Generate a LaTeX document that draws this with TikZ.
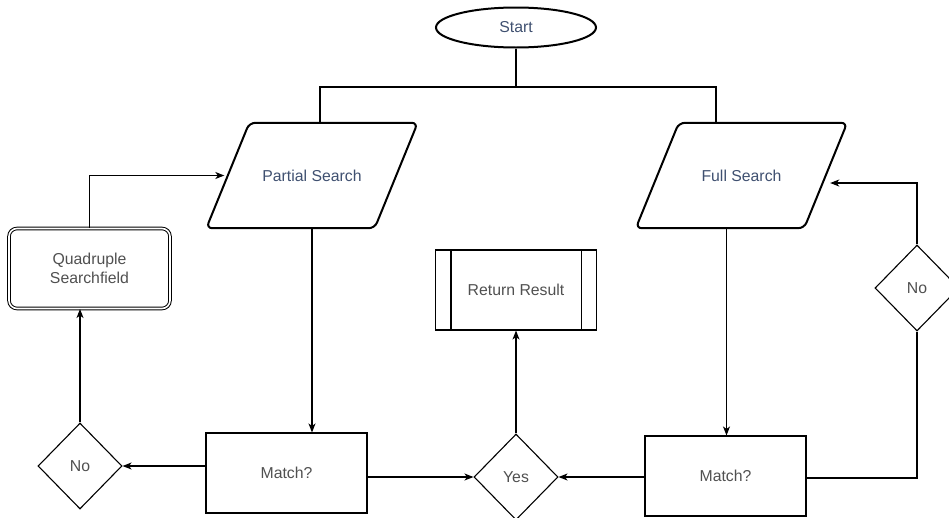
\documentclass[tikz,border=0pt]{standalone}
\usepackage{fontspec}
\setmainfont{Liberation Sans}
\usetikzlibrary{shapes.geometric,arrows.meta}
\definecolor{titleblue}{HTML}{3F5070}
\definecolor{labelgray}{HTML}{505050}
\tikzset{
  base/.style={font=\fontsize{15.8}{18.5}\selectfont, text=labelgray, inner sep=0pt, align=center},
  terminal/.style={base, ellipse, draw, line width=2pt, text=titleblue,
    minimum width=160, minimum height=40},
  datalabel/.style={base, rectangle, text=titleblue, minimum width=211, minimum height=105},
  dataedge/.style={line width=2pt, rounded corners=6pt},
  procbox/.style={base, rectangle, draw, line width=1.1pt, minimum width=161, minimum height=80},
  decision/.style={base, diamond, draw, line width=1.1pt, minimum width=84, minimum height=86},
  subproc/.style={procbox},
  altbox/.style={procbox, rounded corners=8pt, double, double distance=1.6pt, line width=1pt},
  trunk/.style={line width=2pt},
  flow/.style={line width=1.1pt, -{Stealth[length=9pt,width=7pt,inset=2.5pt]}},
  plain/.style={line width=1.1pt}
}
\begin{document}
\begin{tikzpicture}[x=1pt,y=-1pt]
\useasboundingbox (0,0) rectangle (949,517);
\clip (0,0) rectangle (949,517);

% nodes
\node[terminal] (start) at (516,27.5) {Start};
\node[datalabel] (partial) at (312,175.5) {Partial Search};
\node[datalabel] (full) at (741.5,175.5) {Full Search};
\node[altbox] (quad) at (89.5,268.5) {Quadruple\\Searchfield};
\node[subproc] (ret) at (516,290) {Return Result};
\node[procbox] (matchL) at (286.5,473) {Match?};
\node[procbox] (matchR) at (725.5,476) {Match?};
\node[decision] (noL) at (80,466) {No};
\node[decision] (yes) at (516,477) {Yes};
\node[decision] (noR) at (917,288) {No};

% parallelogram outlines of the two search steps (slant 43 over the height)
\draw[dataedge] (partial.south west) -- ([xshift=-43pt]partial.south east)
  -- (partial.north east) -- ([xshift=43pt]partial.north west) -- cycle;
\draw[dataedge] (full.south west) -- ([xshift=-43pt]full.south east)
  -- (full.north east) -- ([xshift=43pt]full.north west) -- cycle;
\coordinate (partialIn) at ([xshift=18pt]partial.west);
\coordinate (fullIn) at ([xshift=-17pt,yshift=-7.5pt]full.east);

% side bars of the predefined process box
\draw[line width=1.1pt] ([xshift=16pt]ret.north west) -- ([xshift=16pt]ret.south west)
  ([xshift=-16pt]ret.north east) -- ([xshift=-16pt]ret.south east);

% branching from the start node
\coordinate (split) at (516,87);
\draw[trunk] (start.south) -- (split);
\draw[trunk] (split) -| ([xshift=8pt]partial.north);
\draw[trunk] (split) -| ([xshift=-25.5pt]full.north);

% left branch
\draw[flow] (partial.south) -- (partial.south |- matchL.north);
\draw[flow] (matchL.west |- noL.east) -- (noL.east);
\draw[flow] (noL.north) -- (noL.north |- quad.south);
\draw[flow] (quad.north) |- (partialIn);
\draw[flow] (matchL.east |- yes.west) -- (yes.west);

% right branch
\draw[flow] ([xshift=-15pt]full.south) -- ([xshift=-15pt]full.south |- matchR.north);
\draw[flow] (matchR.west |- yes.east) -- (yes.east);
\draw[plain] ([yshift=-2pt]matchR.east) -| (noR.south);
\draw[flow] (noR.north) |- (fullIn);

% result
\draw[flow] (yes.north) -- (ret.south);
\end{tikzpicture}
\end{document}
